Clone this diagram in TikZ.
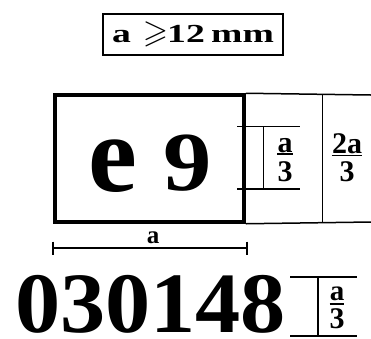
\documentclass[tikz,border=0pt]{standalone}
\usepackage{fontspec}
\setmainfont{Liberation Serif}
\usepackage{amssymb}
\usepackage{graphicx}
\begin{document}
\begin{tikzpicture}[x=1pt,y=-1pt,
  thinln/.style={line width=1.5pt},
  glyph/.style={inner sep=0pt, anchor=base, font=\bfseries},
  fracbar/.style={line width=1.5pt}]
\useasboundingbox (0,0) rectangle (371,338);
% title
\node[draw, line width=2.5pt, minimum width=180pt, minimum height=41pt, inner sep=0pt] (title) at (193,34.5)
  {\fontsize{26}{26}\bfseries\scalebox{1.45}[1]{a}\hspace{12pt}\scalebox{1.25}{$\geqslant$}\hspace{-1pt}\scalebox{1.45}[1]{12\,mm}};
% plate
\node[draw, line width=3.5pt, minimum width=189pt, minimum height=127pt, inner sep=0pt] (plate) at (149.5,158.5) {};
\coordinate (rt) at (371,95);
\coordinate (rb) at (371,222);
\draw[thinln] (plate.north east) -- (rt);
\draw[thinln] (plate.south east) -- (rb);
\coordinate (dvt) at (322.5,95);
\coordinate (dvb) at (322.5,222);
\draw[thinln] (dvt) -- (dvb);
\node[glyph] (e) at (112.5,191) {\fontsize{110}{110}\selectfont e};
\node[glyph] (nine) at (187.5,190) {\fontsize{84}{84}\selectfont\scalebox{1.15}[1]{9}};
% a/3 dimension at plate
\coordinate (d1a) at (237,126.5); \coordinate (d1b) at (300,126.5);
\coordinate (d1c) at (237,189); \coordinate (d1d) at (300,189);
\coordinate (d1e) at (263.5,126.5); \coordinate (d1f) at (263.5,189);
\draw[thinln] (d1a) -- (d1b);
\draw[thinln] (d1c) -- (d1d);
\draw[thinln] (d1e) -- (d1f);
\node[glyph] (f1n) at (285,152) {\fontsize{30}{30}\selectfont a};
\node[glyph] (f1d) at (285,181) {\fontsize{30}{30}\selectfont 3};
\draw[fracbar] ([yshift=-2pt]f1n.base west) -- ([yshift=-2pt]f1n.base east);
% 2a/3
\node[glyph] (f2n) at (347,153) {\fontsize{30}{30}\selectfont 2a};
\node[glyph] (f2d) at (347,181) {\fontsize{30}{30}\selectfont 3};
\draw[fracbar] ([yshift=-2.5pt]f2n.base west) -- ([yshift=-2.5pt]f2n.base east);
% width dimension a
\coordinate (wa) at (53,248); \coordinate (wb) at (247,248);
\draw[line width=2pt] (wa) -- (wb);
\draw[thinln] ([yshift=6.5pt]wa) -- ([yshift=-6.5pt]wa);
\draw[thinln] ([yshift=6.5pt]wb) -- ([yshift=-6.5pt]wb);
\node[glyph] (wl) at (153,243) {\fontsize{25}{25}\selectfont a};
% number
\node[glyph] (num) at (150.5,332.5) {\fontsize{86}{86}\selectfont\scalebox{1.05}[1]{030148}};
\coordinate (b1) at (290,277); \coordinate (b2) at (357,277);
\coordinate (b3) at (290,336); \coordinate (b4) at (357,336);
\coordinate (b5) at (318,277); \coordinate (b6) at (318,336);
\draw[thinln] (b1) -- (b2);
\draw[thinln] (b3) -- (b4);
\draw[thinln] (b5) -- (b6);
\node[glyph] (f3n) at (337,300) {\fontsize{29}{29}\selectfont a};
\node[glyph] (f3d) at (337,328) {\fontsize{30}{30}\selectfont 3};
\draw[fracbar] ([yshift=-4pt]f3n.base west) -- ([yshift=-4pt]f3n.base east);
\end{tikzpicture}
\end{document}
